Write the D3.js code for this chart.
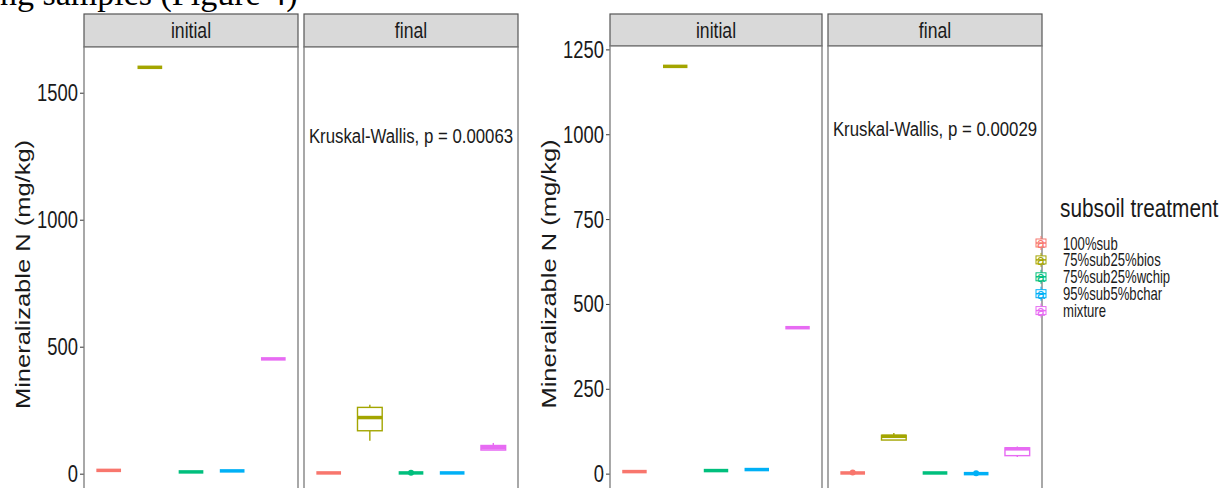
<!DOCTYPE html>
<html><head><meta charset="utf-8">
<script src="https://cdn.jsdelivr.net/npm/d3@7/dist/d3.min.js"></script>
<style>
html,body{margin:0;padding:0;background:#fff;overflow:hidden;}
svg{display:block;font-family:"Liberation Sans",Arial,sans-serif;}
</style></head>
<body>
<svg id="chart" width="1231" height="488"></svg>
<script>
// ---------- data ----------
const treatments = ["100%sub","75%sub25%bios","75%sub25%wchip","95%sub5%bchar","mixture"];
const colors = ["#F8766D","#A3A500","#00BF7D","#00B0F6","#E76BF3"];
const phases = ["initial","final"];
const legendTitle = "subsoil  treatment";
const yLabel = "Mineralizable N (mg/kg)";
const ticksLeft = [0,500,1000,1500];
const ticksRight = [0,250,500,750,1000,1250];
const pLeft = "Kruskal-Wallis, p = 0.00063";
const pRight = "Kruskal-Wallis, p = 0.00029";
// box stats per treatment: [min, q1, median, q3, max]
const leftInitial  = [[13,13,13,13,13],[1600,1600,1600,1600,1600],[7,7,7,7,7],[11,11,11,11,11],[452,452,452,452,452]];
const leftFinal    = [[3,3,3,3,3],[130,169,221,261,271],[3,3,3,3,3],[3,3,3,3,3],[93,93,102,111,121]];
const leftFinalOut = [[],[],[4],[],[]];
const rightInitial = [[6,6,6,6,6],[1200,1200,1200,1200,1200],[9,9,9,9,9],[12,12,12,12,12],[430,430,430,430,430]];
const rightFinal   = [[2,2,2,2,2],[99,99,110,113,120],[2,2,2,2,2],[0,0,0,0,0],[49,53,73,76,80]];
const rightFinalOut= [[3],[],[],[1],[]];
const headerText = "ng samples (Figure 4)";

// ---------- drawing ----------
const svg = d3.select("#chart");
const SX = 0.8; // horizontal squeeze of the source image
const FONT = "'Liberation Sans', Arial, sans-serif";

function sqText(g, x, y, txt, size, anchor, color, sx){
  return g.append("text")
    .attr("transform", `translate(${x},${y}) scale(${sx || SX},1)`)
    .attr("text-anchor", anchor).attr("font-size", size)
    .attr("fill", color || "#1a1a1a").text(txt);
}

svg.append("text").attr("x", 0).attr("y", 5).attr("font-family","'Liberation Serif','Times New Roman',serif")
  .attr("font-size", 34).attr("fill","#000").text(headerText);

function drawPlot(cfg){
  const y = d3.scaleLinear().domain(cfg.domain).range([cfg.bottom, cfg.top]);
  const ax = svg.append("g").attr("transform", `translate(${cfg.panels[0][0]},0)`)
    .call(d3.axisLeft(y).tickValues(cfg.ticks).tickSize(4).tickFormat(d3.format("d")));
  ax.select(".domain").remove();
  ax.selectAll(".tick line").attr("stroke","#333");
  ax.selectAll(".tick text").attr("x",null).attr("dy",null)
    .attr("transform","translate(-6,8) scale(" + SX + ",1)")
    .attr("font-size",23).attr("font-family",FONT).attr("fill","#1a1a1a");
  svg.append("text")
    .attr("transform", `translate(${cfg.titleX},${(cfg.top+cfg.bottom)/2 + 4}) scale(${SX},1) rotate(-90)`)
    .attr("text-anchor","middle").attr("font-size",25.5).attr("fill","#1a1a1a").text(yLabel);

  cfg.panels.forEach((pp, pi) => {
    const [x0,x1] = pp;
    const g = svg.append("g");
    g.append("rect").attr("x",x0).attr("y",cfg.stripTop).attr("width",x1-x0).attr("height",cfg.top-cfg.stripTop)
      .attr("fill","#d9d9d9").attr("stroke","#555").attr("stroke-width",1.2);
    sqText(g, (x0+x1)/2, cfg.stripTop + 24, phases[pi], 22, "middle");
    g.append("rect").attr("x",x0).attr("y",cfg.top).attr("width",x1-x0).attr("height",cfg.bottom-cfg.top)
      .attr("fill","#fff").attr("stroke","#7a7a7a").attr("stroke-width",1.3);
    const x = d3.scalePoint().domain(treatments).range([x0,x1]).padding(0.6);
    const bw = x.step()*0.6;
    const stats = cfg.data[pi], outs = cfg.outs[pi];
    treatments.forEach((t,i) => {
      const s = stats[i], c = colors[i], cx = x(t);
      const bg = g.append("g");
      bg.append("line").attr("x1",cx).attr("x2",cx).attr("y1",y(s[4])).attr("y2",y(s[3])).attr("stroke",c).attr("stroke-width",1.4);
      bg.append("line").attr("x1",cx).attr("x2",cx).attr("y1",y(s[1])).attr("y2",y(s[0])).attr("stroke",c).attr("stroke-width",1.4);
      bg.append("rect").attr("x",cx-bw/2).attr("width",bw).attr("y",y(s[3])).attr("height",Math.max(0,y(s[1])-y(s[3])))
        .attr("fill","#fff").attr("stroke",c).attr("stroke-width",1.4);
      bg.append("line").attr("x1",cx-bw/2).attr("x2",cx+bw/2).attr("y1",y(s[2])).attr("y2",y(s[2])).attr("stroke",c).attr("stroke-width",3.5);
      outs[i].forEach(o => bg.append("circle").attr("cx",cx).attr("cy",y(o)).attr("r",3).attr("fill",c));
    });
  });
  const [f0,f1] = cfg.panels[1];
  sqText(svg, (f0+f1)/2, cfg.annY, cfg.pText, 21, "middle");
}

drawPlot({panels:[[84,298],[304,518]], stripTop:14, top:47, bottom:494, domain:[-80,1680], ticks:ticksLeft,
  data:[leftInitial,leftFinal], outs:[[[],[],[],[],[]],leftFinalOut], titleX:30, annY:143, pText:pLeft});
drawPlot({panels:[[610,822],[828,1042]], stripTop:14, top:46, bottom:494, domain:[-60,1260], ticks:ticksRight,
  data:[rightInitial,rightFinal], outs:[[[],[],[],[],[]],rightFinalOut], titleX:556, annY:136, pText:pRight});

// legend
const lg = svg.append("g");
sqText(lg, 1060, 217, legendTitle, 26, "start");
treatments.forEach((t,i) => {
  const yy = 243 + i*16.9;
  const c = colors[i];
  const k = lg.append("g").attr("transform",`translate(1041,${yy})`);
  k.append("line").attr("x1",0).attr("x2",0).attr("y1",-7).attr("y2",7).attr("stroke",c).attr("stroke-width",1);
  k.append("rect").attr("x",-5).attr("y",-4).attr("width",10).attr("height",8).attr("fill","#fff").attr("stroke",c).attr("stroke-width",1);
  k.append("line").attr("x1",-5).attr("x2",5).attr("y1",0).attr("y2",0).attr("stroke",c).attr("stroke-width",1.5);
  k.append("text").attr("x",0).attr("y",5).attr("text-anchor","middle").attr("font-size",14).attr("fill",c).text("a");
  sqText(lg, 1063, yy+6.5, t, 17.5, "start", null, 0.75);
});
</script>
</body></html>
